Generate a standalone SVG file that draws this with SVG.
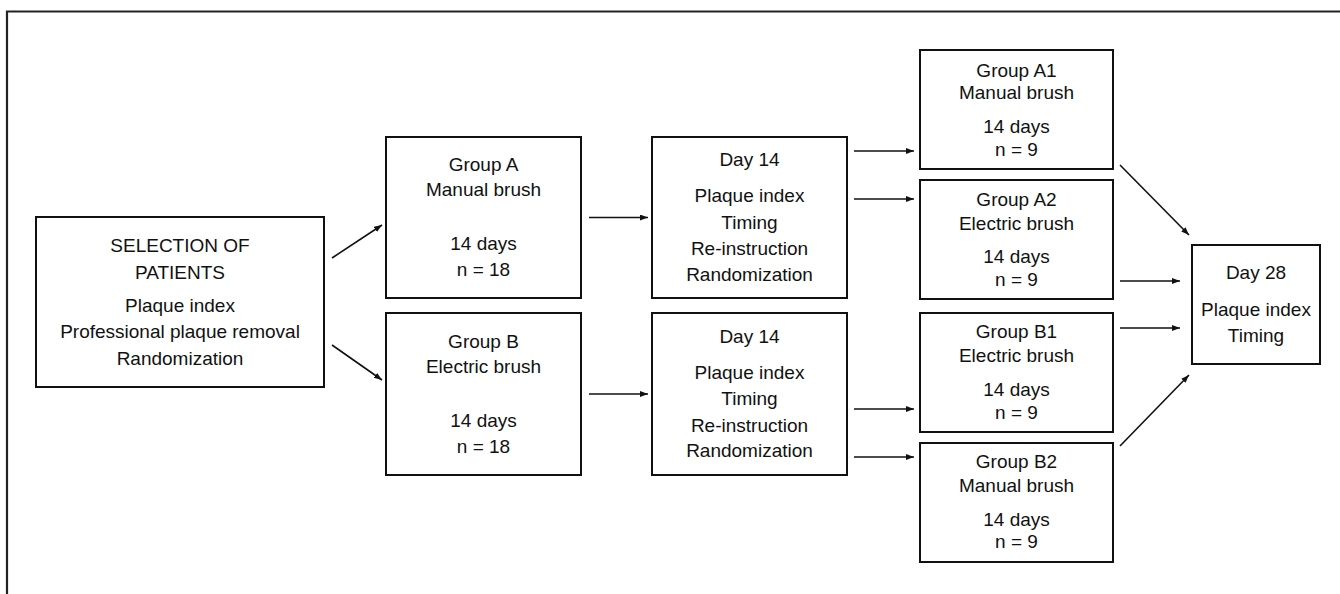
<svg xmlns="http://www.w3.org/2000/svg" width="1340" height="594" viewBox="0 0 1340 594">
<defs>
<style>
.box{fill:#fff;stroke:#111;stroke-width:2}
.t{font-family:"Liberation Sans",Arial,Helvetica,sans-serif;font-size:19px;fill:#111;text-anchor:middle}
.c{stroke:#111;stroke-width:1.6;fill:none;marker-end:url(#ah)}
.frame{stroke:#222;stroke-width:2.2;fill:none}
</style>
<marker id="ah" markerUnits="userSpaceOnUse" markerWidth="9" markerHeight="7" refX="8" refY="3" orient="auto">
<path d="M0,0 L8,3 L0,6 z" fill="#111"/>
</marker>
</defs>
<rect width="1340" height="594" fill="#fff"/>
<path class="frame" d="M7,594 V11.5 H1340"/>

<g id="selection">
<rect class="box" x="36" y="217" width="288" height="170"/>
<text class="t" x="180" y="252">SELECTION OF</text>
<text class="t" x="180" y="279">PATIENTS</text>
<text class="t" x="180" y="312">Plaque index</text>
<text class="t" x="180" y="338">Professional plaque removal</text>
<text class="t" x="180" y="365">Randomization</text>
</g>

<g id="groupA">
<rect class="box" x="386" y="137" width="195" height="161"/>
<text class="t" x="483.5" y="171">Group A</text>
<text class="t" x="483.5" y="196">Manual brush</text>
<text class="t" x="483.5" y="250">14 days</text>
<text class="t" x="483.5" y="276">n = 18</text>
</g>

<g id="groupB">
<rect class="box" x="386" y="313" width="195" height="162"/>
<text class="t" x="483.5" y="348">Group B</text>
<text class="t" x="483.5" y="373">Electric brush</text>
<text class="t" x="483.5" y="427">14 days</text>
<text class="t" x="483.5" y="453">n = 18</text>
</g>

<g id="day14A">
<rect class="box" x="652" y="137" width="195" height="161"/>
<text class="t" x="749.5" y="166">Day 14</text>
<text class="t" x="749.5" y="202">Plaque index</text>
<text class="t" x="749.5" y="229">Timing</text>
<text class="t" x="749.5" y="255">Re-instruction</text>
<text class="t" x="749.5" y="281">Randomization</text>
</g>

<g id="day14B">
<rect class="box" x="652" y="313" width="195" height="162"/>
<text class="t" x="749.5" y="343">Day 14</text>
<text class="t" x="749.5" y="379">Plaque index</text>
<text class="t" x="749.5" y="405">Timing</text>
<text class="t" x="749.5" y="432">Re-instruction</text>
<text class="t" x="749.5" y="457">Randomization</text>
</g>

<g id="groupA1">
<rect class="box" x="920" y="50" width="193" height="119"/>
<text class="t" x="1016.5" y="77">Group A1</text>
<text class="t" x="1016.5" y="99">Manual brush</text>
<text class="t" x="1016.5" y="133">14 days</text>
<text class="t" x="1016.5" y="156">n = 9</text>
</g>

<g id="groupA2">
<rect class="box" x="920" y="180" width="193" height="119"/>
<text class="t" x="1016.5" y="206">Group A2</text>
<text class="t" x="1016.5" y="230">Electric brush</text>
<text class="t" x="1016.5" y="263">14 days</text>
<text class="t" x="1016.5" y="286">n = 9</text>
</g>

<g id="groupB1">
<rect class="box" x="920" y="313" width="193" height="119"/>
<text class="t" x="1016.5" y="338">Group B1</text>
<text class="t" x="1016.5" y="362">Electric brush</text>
<text class="t" x="1016.5" y="396">14 days</text>
<text class="t" x="1016.5" y="419">n = 9</text>
</g>

<g id="groupB2">
<rect class="box" x="920" y="443" width="193" height="119"/>
<text class="t" x="1016.5" y="468">Group B2</text>
<text class="t" x="1016.5" y="492">Manual brush</text>
<text class="t" x="1016.5" y="526">14 days</text>
<text class="t" x="1016.5" y="548">n = 9</text>
</g>

<g id="day28">
<rect class="box" x="1192" y="245" width="128" height="119"/>
<text class="t" x="1256" y="279">Day 28</text>
<text class="t" x="1256" y="316">Plaque index</text>
<text class="t" x="1256" y="342">Timing</text>
</g>

<g id="connectors">
<line class="c" x1="332" y1="258" x2="382" y2="225"/>
<line class="c" x1="332" y1="345" x2="382" y2="380"/>
<line class="c" x1="589" y1="217.5" x2="648" y2="217.5"/>
<line class="c" x1="589" y1="394" x2="648" y2="394"/>
<line class="c" x1="854" y1="151" x2="914" y2="151"/>
<line class="c" x1="854" y1="199" x2="914" y2="199"/>
<line class="c" x1="854" y1="409" x2="914" y2="409"/>
<line class="c" x1="854" y1="457" x2="914" y2="457"/>
<line class="c" x1="1120" y1="165" x2="1189" y2="235"/>
<line class="c" x1="1120" y1="281" x2="1180" y2="281"/>
<line class="c" x1="1120" y1="328" x2="1180" y2="328"/>
<line class="c" x1="1120" y1="446" x2="1189" y2="375"/>
</g>
</svg>
